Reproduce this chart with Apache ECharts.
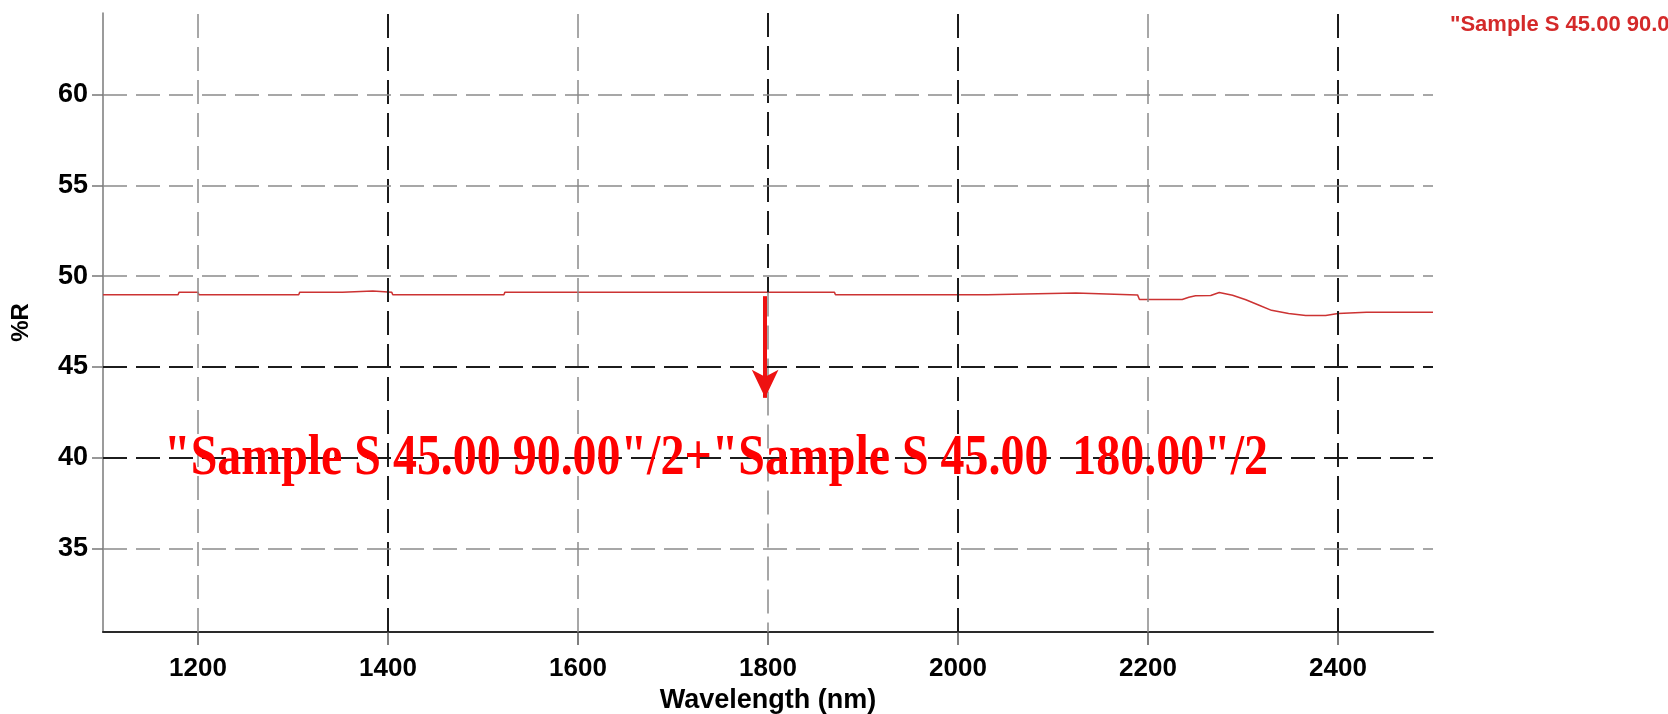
<!DOCTYPE html>
<html>
<head>
<meta charset="utf-8">
<script src="https://cdn.jsdelivr.net/npm/echarts@6/dist/echarts.min.js"></script>
<style>
  html, body { margin: 0; padding: 0; background: #ffffff; }
  #chart { width: 1668px; height: 714px; }
</style>
</head>
<body>
<div id="chart"></div>
<script>
// Reflectance spectrum, wavelength in nm and %R
const wavelength = [
  1100, 1179, 1180, 1200, 1201, 1306, 1307, 1352, 1353, 1384, 1385, 1404, 1405,
  1522, 1523, 1870, 1871, 2031, 2032, 2124, 2125, 2189, 2191, 2236, 2243, 2250,
  2266, 2275, 2289, 2303, 2317, 2330, 2348, 2366, 2387, 2400, 2430, 2500
];
const reflectance = [
  48.98, 48.98, 49.11, 49.11, 48.98, 48.98, 49.11, 49.11, 49.18, 49.18, 49.11, 49.11, 48.98,
  48.98, 49.11, 49.11, 48.98, 48.98, 49.08, 49.08, 48.97, 48.97, 48.72, 48.72, 48.84, 48.92,
  48.94, 49.10, 48.95, 48.70, 48.40, 48.12, 47.94, 47.83, 47.83, 47.94, 48.01, 48.02
];

const xTicks = [1200, 1400, 1600, 1800, 2000, 2200, 2400];
const yTicks = [35, 40, 45, 50, 55, 60];
const xGridDark = [1400, 2000, 2400];
const yGridDark = [40, 45];

// Marker arrow pointing down from the curve
const arrowX = [1797, 1797];
const arrowY = [48.9, 43.3];

const seriesName = '"Sample S 45.00 90.00"/2+"Sample S 45.00  180.00"/2';

const Y_MIN = 30.4;
const Y_MAX = 64.5;
const LIGHT = '#8a8a8a';
const DARK = '#1c1c1c';
const labelFont = '"Liberation Sans", Arial, sans-serif';

function dashStyle(dark) {
  return { color: dark ? DARK : LIGHT, width: dark ? 2 : 1.5, type: [24, 9] };
}

const gridLines = [];
xTicks.forEach(v => {
  if (v === 1800) {
    // upper part of the 1800 line is drawn dark, the rest light
    gridLines.push([{ coord: [v, Y_MAX] }, { coord: [v, 49.1], lineStyle: dashStyle(true) }]);
    gridLines.push([{ coord: [v, 49.1] }, { coord: [v, Y_MIN], lineStyle: dashStyle(false) }]);
  } else {
    gridLines.push({ xAxis: v, lineStyle: dashStyle(xGridDark.includes(v)) });
  }
});
yTicks.forEach(v => gridLines.push({ yAxis: v, lineStyle: dashStyle(yGridDark.includes(v)) }));

const chart = echarts.init(document.getElementById('chart'), null, { renderer: 'canvas' });

chart.setOption({
  animation: false,
  backgroundColor: '#ffffff',
  grid: { left: 103, right: 235, top: 13, bottom: 82, containLabel: false, outerBoundsMode: 'none' },
  xAxis: {
    type: 'value',
    min: 1100,
    max: 2500,
    name: 'Wavelength (nm)',
    nameLocation: 'middle',
    nameGap: 54,
    nameTextStyle: { fontFamily: labelFont, fontWeight: 'bold', fontSize: 27, color: '#000' },
    axisLine: { show: true, lineStyle: { color: '#2a2a2a', width: 2 } },
    axisTick: { show: true, customValues: xTicks, length: 13, lineStyle: { color: '#555', width: 1.5 } },
    axisLabel: {
      customValues: xTicks,
      formatter: v => String(v),
      margin: 24,
      fontFamily: labelFont, fontWeight: 'bold', fontSize: 26, color: '#000'
    },
    splitLine: { show: false }
  },
  yAxis: {
    type: 'value',
    min: Y_MIN,
    max: Y_MAX,
    name: '%R',
    nameLocation: 'middle',
    nameGap: 70,
    nameRotate: 90,
    nameTextStyle: { fontFamily: labelFont, fontWeight: 'bold', fontSize: 24, color: '#000' },
    axisLine: { show: true, lineStyle: { color: '#7a7a7a', width: 1.5 } },
    axisTick: { show: true, customValues: yTicks, length: 11, lineStyle: { color: '#777', width: 1.5 } },
    axisLabel: {
      customValues: yTicks,
      formatter: v => String(v),
      margin: 15,
      fontFamily: labelFont, fontWeight: 'bold', fontSize: 27, color: '#000'
    },
    splitLine: { show: false }
  },
  series: [
    {
      name: 'grid',
      type: 'line',
      data: [],
      silent: true,
      z: 1,
      markLine: {
        silent: true,
        symbol: 'none',
        animation: false,
        label: { show: false },
        data: gridLines
      }
    },
    {
      name: seriesName,
      type: 'line',
      data: wavelength.map((w, i) => [w, reflectance[i]]),
      showSymbol: false,
      z: 3,
      lineStyle: { color: '#cc3333', width: 1.5 },
      markLine: {
        silent: true,
        animation: false,
        label: { show: false },
        data: [[
          { coord: [arrowX[0], arrowY[0]], symbol: 'none' },
          { coord: [arrowX[1], arrowY[1]], symbol: 'arrow', symbolSize: [20, 28] }
        ]],
        lineStyle: { color: '#ee1111', width: 4, type: 'solid' }
      }
    }
  ],
  graphic: [
    {
      type: 'text',
      left: 1450,
      top: 14,
      z: 10,
      style: {
        text: seriesName,
        fill: '#d42a2a',
        font: 'bold 22px "Liberation Sans", Arial, sans-serif'
      }
    },
    {
      type: 'text',
      x: 716,
      y: 459,
      scaleX: 0.826,
      z: 10,
      style: {
        text: seriesName,
        fill: '#ff0000',
        align: 'center',
        verticalAlign: 'middle',
        font: 'bold 58px "Liberation Serif", "Times New Roman", serif'
      }
    }
  ]
});
</script>
</body>
</html>
